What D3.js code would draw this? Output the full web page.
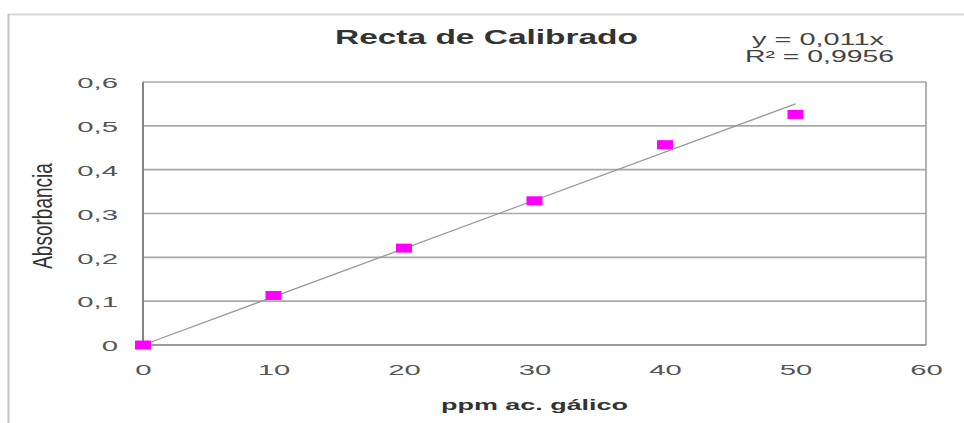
<!DOCTYPE html>
<html><head><meta charset="utf-8">
<script src="https://cdn.jsdelivr.net/npm/d3@7"></script>
<style>body{margin:0;background:#fff}svg{display:block}</style>
</head><body>
<script>
const xValues = [0, 10, 20, 30, 40, 50];
const absorbance = [0, 0.113, 0.221, 0.329, 0.457, 0.526];
const xTicks = [0, 10, 20, 30, 40, 50, 60];
const yTicks = [0, 0.1, 0.2, 0.3, 0.4, 0.5, 0.6];
const slope = 0.011;
const titleText = "Recta de Calibrado";
const eqLines = ["y = 0,011x", "R\u00B2 = 0,9956"];
const xTitle = "ppm ac. g\u00E1lico";
const yTitle = "Absorbancia";

const W = 964, H = 423;
const m = {left: 143, right: 926, top: 82, bottom: 345};
const FONT = "Liberation Sans, Arial, sans-serif";
const svg = d3.select("body").append("svg").attr("width", W).attr("height", H);

// horizontally stretch text (the reference is widened)
function stretch(sel, sx) {
  sel.each(function () {
    const len = this.getComputedTextLength();
    this.setAttribute("textLength", (len * sx).toFixed(1));
    this.setAttribute("lengthAdjust", "spacingAndGlyphs");
  });
}

// outer frame
svg.append("line").attr("x1", 8).attr("x2", W).attr("y1", 14.5).attr("y2", 14.5)
  .attr("stroke", "#d6d6d6").attr("stroke-width", 2);
svg.append("line").attr("x1", 8.5).attr("x2", 8.5).attr("y1", 14).attr("y2", H)
  .attr("stroke", "#c4c4c4").attr("stroke-width", 2);

const x = d3.scaleLinear().domain([0, 60]).range([m.left, m.right]);
const y = d3.scaleLinear().domain([0, 0.6]).range([m.bottom, m.top]);
const fmt = d => d === 0 ? "0" : d3.format(".1f")(d).replace(".", ",");

// gridlines
svg.append("g").selectAll("line").data(yTicks.filter(d => d > 0)).join("line")
  .attr("x1", m.left).attr("x2", m.right)
  .attr("y1", d => y(d)).attr("y2", d => y(d))
  .attr("stroke", "#a8a8a8").attr("stroke-width", 1.6);
// right border
svg.append("line").attr("x1", m.right).attr("x2", m.right).attr("y1", m.top).attr("y2", m.bottom)
  .attr("stroke", "#a8a8a8").attr("stroke-width", 1.8);
// bottom axis line
svg.append("line").attr("x1", m.left).attr("x2", m.right).attr("y1", m.bottom).attr("y2", m.bottom)
  .attr("stroke", "#9a9a9a").attr("stroke-width", 2);
// left axis line
svg.append("line").attr("x1", m.left).attr("x2", m.left).attr("y1", m.top).attr("y2", m.bottom)
  .attr("stroke", "#777").attr("stroke-width", 1.8);

// axis labels via d3 axes
const yAxis = svg.append("g").attr("transform", `translate(${m.left},0)`)
  .call(d3.axisLeft(y).tickValues(yTicks).tickFormat(fmt).tickSize(0).tickPadding(25));
yAxis.select(".domain").remove();
yAxis.selectAll("text").attr("font-family", FONT)
  .attr("font-size", 15).attr("fill", "#555").attr("dy", "0.38em");
stretch(yAxis.selectAll("text"), 1.95);

const xAxis = svg.append("g").attr("transform", `translate(0,${m.bottom})`)
  .call(d3.axisBottom(x).tickValues(xTicks).tickFormat(d3.format("d")).tickSize(0).tickPadding(19));
xAxis.select(".domain").remove();
xAxis.selectAll("text").attr("font-family", FONT)
  .attr("font-size", 15).attr("fill", "#555");
stretch(xAxis.selectAll("text"), 1.95);

// trendline
svg.append("line")
  .attr("x1", x(0)).attr("y1", y(0))
  .attr("x2", x(50)).attr("y2", y(slope * 50))
  .attr("stroke", "#999").attr("stroke-width", 1.3);

// markers
svg.append("g").selectAll("rect").data(xValues.map((v, i) => [v, absorbance[i]])).join("rect")
  .attr("x", d => x(d[0]) - 8).attr("y", d => y(d[1]) - 4.5)
  .attr("width", 16).attr("height", 9)
  .attr("fill", "#ff00ff");

// title
const t = svg.append("text").attr("x", 335).attr("y", 44).attr("text-anchor", "start")
  .attr("font-family", FONT).attr("font-weight", "bold")
  .attr("font-size", 20).attr("fill", "#333").text(titleText);
t.attr("textLength", 303).attr("lengthAdjust", "spacingAndGlyphs");

// equation
const eqX = [752, 745], eqW = [132, 149];
svg.append("g").selectAll("text").data(eqLines).join("text")
  .attr("x", (d, i) => eqX[i]).attr("y", (d, i) => 45 + i * 17).attr("text-anchor", "start")
  .attr("font-family", FONT).attr("font-size", 16)
  .attr("fill", "#444").text(d => d)
  .attr("textLength", (d, i) => eqW[i]).attr("lengthAdjust", "spacingAndGlyphs");

// axis titles
svg.append("text").attr("x", 441).attr("y", 410).attr("text-anchor", "start")
  .attr("font-family", FONT).attr("font-weight", "bold")
  .attr("font-size", 15).attr("fill", "#333").text(xTitle)
  .attr("textLength", 187).attr("lengthAdjust", "spacingAndGlyphs");

svg.append("text").attr("transform", "translate(52,216) scale(1.5,1) rotate(-90)").attr("text-anchor", "middle")
  .attr("font-family", FONT)
  .attr("font-size", 19).attr("fill", "#333").text(yTitle);
</script>
</body></html>
